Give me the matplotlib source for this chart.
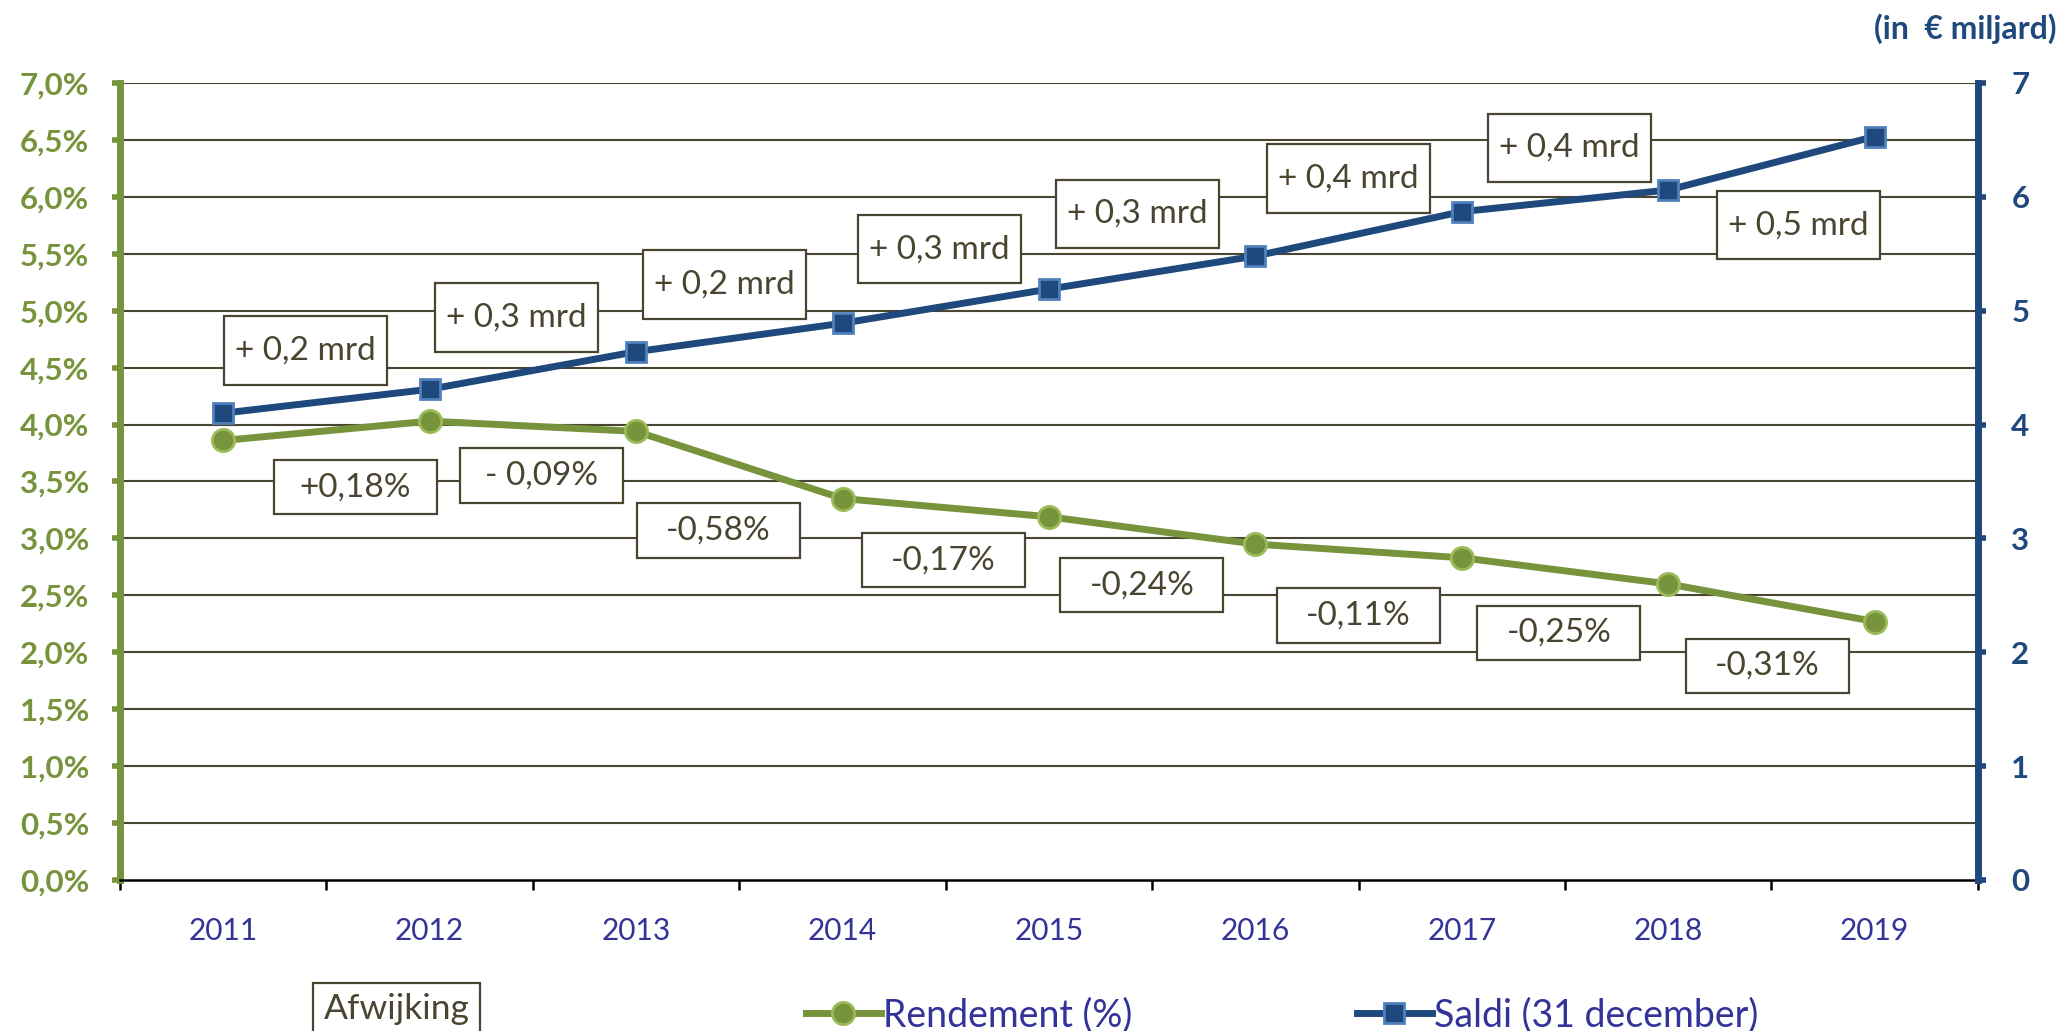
import matplotlib
matplotlib.use("Agg")
import matplotlib.pyplot as plt
from matplotlib.patches import Rectangle
from matplotlib.lines import Line2D

plt.rcParams['font.family'] = ['Lato', 'DejaVu Sans']

years = ["2011", "2012", "2013", "2014", "2015", "2016", "2017", "2018", "2019"]
rendement = [3.86, 4.03, 3.94, 3.35, 3.19, 2.95, 2.83, 2.60, 2.27]
saldi = [4.10, 4.31, 4.64, 4.89, 5.19, 5.48, 5.87, 6.06, 6.53]

saldi_labels = ["+ 0,2 mrd", "+ 0,3 mrd", "+ 0,2 mrd", "+ 0,3 mrd",
                "+ 0,3 mrd", "+ 0,4 mrd", "+ 0,4 mrd", "+ 0,5 mrd"]
rend_labels = ["+0,18%", "- 0,09%", "-0,58%", "-0,17%",
               "-0,24%", "-0,11%", "-0,25%", "-0,31%"]

# label box positions (category index, axis units)
saldi_lab_x = [0.40, 1.42, 2.43, 3.47, 4.43, 5.45, 6.52, 7.63]
saldi_lab_y = [4.65, 4.94, 5.23, 5.54, 5.85, 6.16, 6.43, 5.75]
rend_lab_x = [0.64, 1.54, 2.40, 3.49, 4.45, 5.50, 6.47, 7.48]
rend_lab_y = [3.45, 3.55, 3.07, 2.81, 2.59, 2.32, 2.17, 1.88]

GREEN = "#77933C"
GREEN_L = "#9BBB59"
BLUE = "#1F497D"
BLUE_L = "#4F81BD"
OLIVE = "#4A4530"
TXT = "#333399"

fig = plt.figure(figsize=(20.61, 10.31), dpi=100)
ax = fig.add_axes([0.0582, 0.1465, 0.9015, 0.773])
ax2 = ax.twinx()

x = list(range(len(years)))
ax.set_xlim(-0.5, 8.5)
ax.set_ylim(0, 7)
ax2.set_ylim(0, 7)

# grid
for v in [i * 0.5 for i in range(1, 15)]:
    ax.axhline(v, color=OLIVE, lw=1.5, zorder=1)

# label boxes
def box(xc, yc, w, h, s):
    ax.add_patch(Rectangle((xc - w / 2, yc - h / 2), w, h, facecolor="white",
                           edgecolor=OLIVE, lw=1.6, zorder=2))
    ax.text(xc, yc, s, ha="center", va="center", fontsize=24, color=OLIVE, zorder=3)

for xc, yc, s in zip(saldi_lab_x, saldi_lab_y, saldi_labels):
    box(xc, yc, 0.79, 0.60, s)
for xc, yc, s in zip(rend_lab_x, rend_lab_y, rend_labels):
    box(xc, yc, 0.79, 0.48, s)

ax.plot(x, rendement, color=GREEN, lw=5, marker="o", ms=16,
        mfc=GREEN, mec=GREEN_L, mew=2, zorder=4)
ax2.plot(x, saldi, color=BLUE, lw=5, marker="s", ms=15,
         mfc=BLUE, mec=BLUE_L, mew=2, zorder=4)

# spines
for s in ["top", "right"]:
    ax.spines[s].set_visible(False)
for s in ["top", "left", "bottom"]:
    ax2.spines[s].set_visible(False)
ax.spines["left"].set_color(GREEN)
ax.spines["left"].set_linewidth(5)
ax.spines["bottom"].set_color("black")
ax.spines["bottom"].set_linewidth(1.8)
ax2.spines["right"].set_color(BLUE)
ax2.spines["right"].set_linewidth(5)

ax.set_yticks([i * 0.5 for i in range(15)])
ax.set_yticklabels([f"{i * 0.5:.1f}%".replace(".", ",") for i in range(15)])
ax.tick_params(axis="y", direction="out", length=6, width=4, color=GREEN,
               labelcolor=GREEN, labelsize=22.5, pad=16)
for t in ax.get_yticklabels():
    t.set_fontweight("bold")

ax2.set_yticks(range(8))
ax2.tick_params(axis="y", direction="out", length=6, width=4, color=BLUE,
                labelcolor=BLUE, labelsize=22.5, pad=18)
for t in ax2.get_yticklabels():
    t.set_fontweight("bold")

ax.set_xticks(x)
ax.set_xticklabels(years)
ax.set_xticks([i - 0.5 for i in range(10)], minor=True)
ax.tick_params(axis="x", which="major", length=0, labelsize=21.5,
               labelcolor=TXT, pad=27)
ax.tick_params(axis="x", which="minor", length=7, width=1.8, color="black")

fig.text(0.998, 0.972, "(in  € miljard)", ha="right", va="center",
         fontsize=23, fontweight="bold", color=BLUE)

fig.text(0.1925, 0.021, "Afwijking", ha="center", va="center", fontsize=25.5,
         color=OLIVE, bbox=dict(boxstyle="square,pad=0.3", fc="white",
                                ec=OLIVE, lw=1.6))

handles = [
    Line2D([], [], color=GREEN, lw=5, marker="o", ms=16, mfc=GREEN, mec=GREEN_L, mew=2),
    Line2D([], [], color=BLUE, lw=5, marker="s", ms=15, mfc=BLUE, mec=BLUE_L, mew=2),
]
leg = fig.legend(handles, ["Rendement (%)", "Saldi (31 december)"], ncol=2,
                 loc="center", bbox_to_anchor=(0.622, 0.015), frameon=False,
                 fontsize=27, handlelength=2.0, handletextpad=0.05,
                 columnspacing=6.0)
for t in leg.get_texts():
    t.set_color(TXT)

fig.savefig("out.png", dpi=100)
